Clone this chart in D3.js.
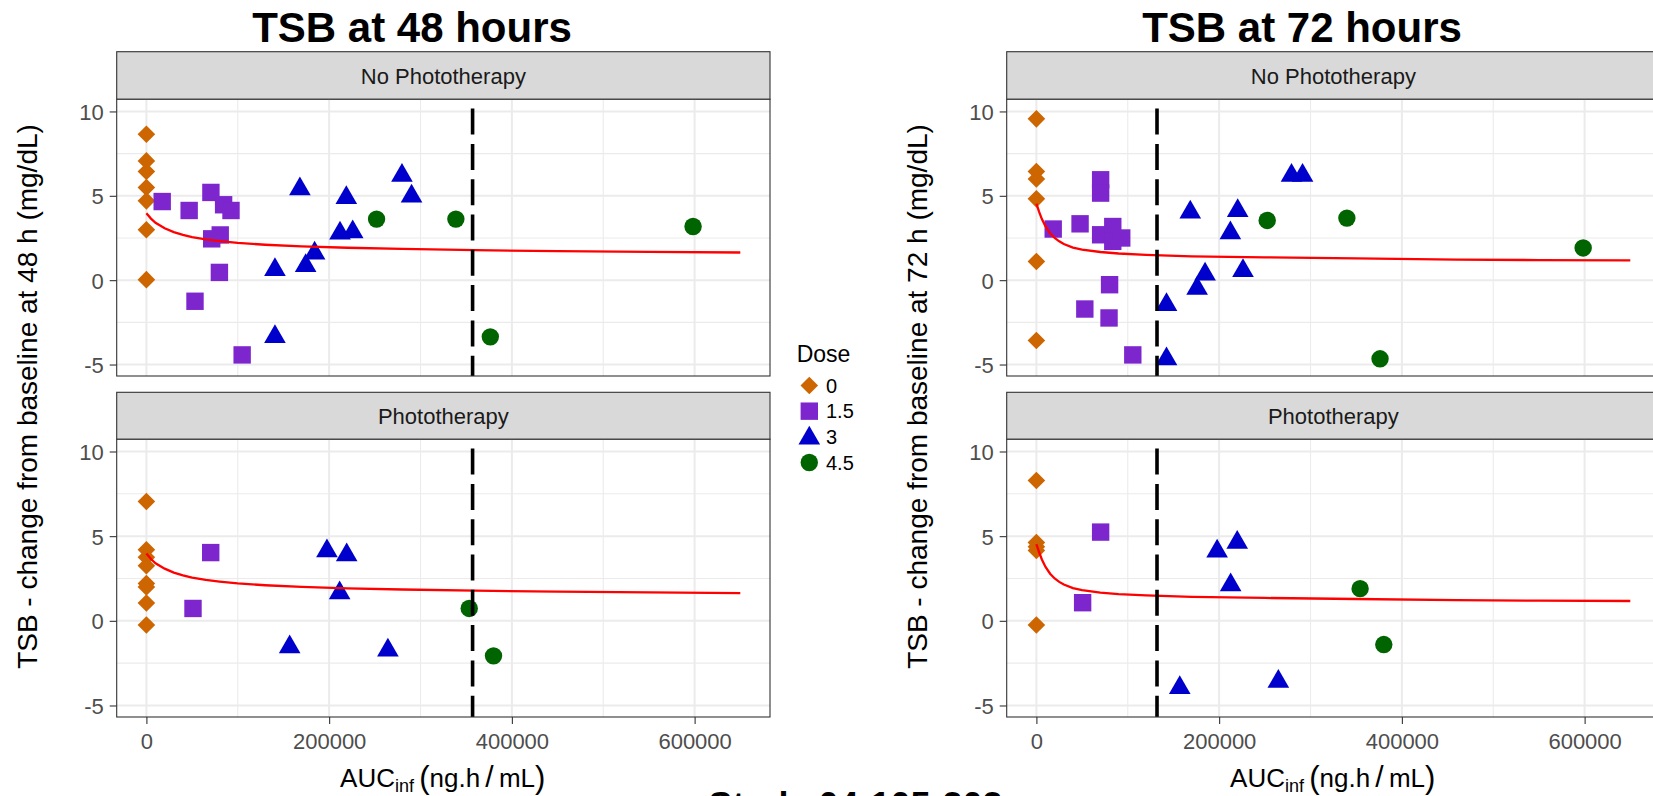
<!DOCTYPE html>
<html>
<head>
<meta charset="utf-8">
<script src="https://cdn.jsdelivr.net/npm/d3@7"></script>
<style>
  html, body { margin: 0; padding: 0; background: #fff; overflow: hidden; }
  svg { display: block; font-family: "Liberation Sans", Arial, sans-serif; }
</style>
</head>
<body>
<svg id="chart" width="1653" height="796"></svg>
<script>
// ---- data ----------------------------------------------------------
const doseLevels = ["0", "1.5", "3", "4.5"];
const doseColors = ["#CD6600", "#7D26CD", "#0000CD", "#006400"];
const doseShapes = ["diamond", "square", "triangle", "circle"];
const facetLabels = ["No Phototherapy", "Phototherapy"];
const plotTitles = ["TSB at 48 hours", "TSB at 72 hours"];
const yTitles = ["TSB - change from baseline at 48 h (mg/dL)", "TSB - change from baseline at 72 h (mg/dL)"];
const xTicks = [0, 200000, 400000, 600000];
const xMinor = [100000, 300000, 500000];
const yTicks = [-5, 0, 5, 10];
const yMinor = [-2.5, 2.5, 7.5];

// each row: [AUCinf (ng.h/mL), TSB change (mg/dL), dose index]
const h48NoPhoto = [
  [0, 8.65, 0], [0, 7.07, 0], [0, 6.44, 0], [0, 5.49, 0], [0, 4.70, 0], [0, 2.99, 0], [0, 0.03, 0],
  [17300, 4.66, 1], [46800, 4.13, 1], [70600, 5.20, 1], [84500, 4.47, 1], [92600, 4.13, 1],
  [71500, 2.45, 1], [80800, 2.68, 1], [79900, 0.46, 1], [53200, -1.25, 1], [104800, -4.43, 1],
  [168000, 5.40, 2], [218800, 4.89, 2], [279700, 6.20, 2], [290200, 4.97, 2], [211900, 2.78, 2],
  [225800, 2.86, 2], [140700, 0.62, 2], [184100, 1.59, 2], [174300, 0.85, 2], [140700, -3.35, 2],
  [251900, 3.62, 3], [338700, 3.62, 3], [598300, 3.18, 3], [376400, -3.36, 3]
];
const h48Photo = [
  [0, 7.05, 0], [0, 4.20, 0], [0, 3.75, 0], [0, 3.25, 0], [0, 2.20, 0], [0, 2.00, 0], [0, 1.05, 0], [0, -0.25, 0],
  [70400, 4.03, 1], [51000, 0.73, 1],
  [197600, 4.12, 2], [219200, 3.89, 2], [211500, 1.64, 2], [156800, -1.55, 2], [264300, -1.74, 2],
  [353300, 0.73, 3], [379900, -2.07, 3]
];
const h72NoPhoto = [
  [0, 9.56, 0], [0, 6.44, 0], [0, 6.00, 0], [0, 4.82, 0], [0, 1.11, 0], [0, -3.58, 0],
  [18400, 3.03, 1], [47800, 3.34, 1], [70300, 5.95, 1], [70300, 5.16, 1], [70300, 2.69, 1], [83600, 3.18, 1],
  [83600, 2.30, 1], [93400, 2.50, 1], [80100, -0.27, 1], [53000, -1.71, 1], [79500, -2.24, 1], [105500, -4.43, 1],
  [168400, 4.02, 2], [220300, 4.11, 2], [212300, 2.80, 2], [279200, 6.21, 2], [291300, 6.21, 2],
  [184600, 0.35, 2], [175900, -0.50, 2], [226100, 0.56, 2], [142400, -1.46, 2], [142400, -4.67, 2],
  [252600, 3.54, 3], [339800, 3.68, 3], [598400, 1.91, 3], [376100, -4.66, 3]
];
const h72Photo = [
  [0, 8.29, 0], [0, 4.62, 0], [0, 4.38, 0], [0, 4.15, 0], [0, -0.25, 0],
  [70300, 5.24, 1], [50600, 1.07, 1],
  [197800, 4.11, 2], [219800, 4.62, 2], [212600, 2.11, 2], [156900, -3.95, 2], [264800, -3.58, 2],
  [354300, 1.90, 3], [380200, -1.40, 3]
];

// model curves (same curve in both facets of a time point)
const h48FitAuc = [0, 5000, 10000, 20000, 30000, 40000, 50000, 65000, 80000, 100000, 130000, 170000, 220000, 280000, 360000, 450000, 550000, 650000];
const h48FitChange = [3.97, 3.65, 3.40, 3.08, 2.85, 2.68, 2.55, 2.42, 2.32, 2.21, 2.10, 2.00, 1.92, 1.85, 1.78, 1.72, 1.68, 1.64];
const h72FitAuc = [0, 3000, 6000, 10000, 15000, 20000, 25000, 30000, 40000, 50000, 70000, 90000, 120000, 170000, 250000, 350000, 460000, 550000, 650000];
const h72FitChange = [4.53, 4.05, 3.62, 3.18, 2.78, 2.50, 2.30, 2.14, 1.93, 1.81, 1.67, 1.58, 1.50, 1.41, 1.35, 1.29, 1.22, 1.19, 1.17];

// reference AUC marked with dashed line
const cutoffAuc = [357000, 132000];

// ---- layout --------------------------------------------------------
const svg = d3.select("#chart");
const font = '"Liberation Sans", Arial, sans-serif';

const subplots = [
  { left: 116.7, panels: [h48NoPhoto, h48Photo], fitX: h48FitAuc, fitY: h48FitChange, cutoff: cutoffAuc[0], title: plotTitles[0], ytitle: yTitles[0] },
  { left: 1006.7, panels: [h72NoPhoto, h72Photo], fitX: h72FitAuc, fitY: h72FitChange, cutoff: cutoffAuc[1], title: plotTitles[1], ytitle: yTitles[1] }
];
const panelWidth = 653.3;
const strips = [[51.7, 99.3], [392.3, 439.3]];
const panelsY = [[99.3, 376.0], [439.3, 717.0]];
const xDomain = [-32500, 682500];
const yDomain = [-5.68, 10.72];

function shapePath(shape) {
  switch (shape) {
    case "diamond": { const h = 8.8; return `M0,${-h}L${h},0L0,${h}L${-h},0Z`; }
    case "square": { const h = 8.7; return `M${-h},${-h}H${h}V${h}H${-h}Z`; }
    case "triangle": { const r = 12.5, w = r * Math.sqrt(3) / 2; return `M0,${-r}L${w},${r / 2}L${-w},${r / 2}Z`; }
    default: { const r = 8.7; return `M${r},0A${r},${r} 0 1,1 ${-r},0A${r},${r} 0 1,1 ${r},0Z`; }
  }
}

subplots.forEach((sp, si) => {
  const x = d3.scaleLinear().domain(xDomain).range([sp.left, sp.left + panelWidth]);
  const g = svg.append("g");

  // title
  g.append("text")
    .attr("x", sp.left + 295.3).attr("y", 41.7)
    .attr("text-anchor", "middle")
    .style("font-family", font).style("font-weight", "bold").style("font-size", "42px")
    .attr("fill", "#000").text(sp.title);

  // y axis title
  g.append("text")
    .attr("transform", `translate(${sp.left - 80.2},396.5) rotate(-90)`)
    .attr("text-anchor", "middle")
    .style("font-family", font).style("font-size", "28px")
    .attr("fill", "#000").text(sp.ytitle);

  const line = d3.line().x(d => x(d[0])).y(d => d[1]);

  sp.panels.forEach((rows, pi) => {
    const [top, bottom] = panelsY[pi];
    const y = d3.scaleLinear().domain(yDomain).range([bottom, top]);
    const pg = g.append("g");

    // strip
    pg.append("rect")
      .attr("x", sp.left).attr("y", strips[pi][0])
      .attr("width", panelWidth).attr("height", strips[pi][1] - strips[pi][0])
      .attr("fill", "#D9D9D9").attr("stroke", "#333333").attr("stroke-width", 1.1);
    pg.append("text")
      .attr("x", sp.left + panelWidth / 2).attr("y", (strips[pi][0] + strips[pi][1]) / 2 + 8.5)
      .attr("text-anchor", "middle")
      .style("font-family", font).style("font-size", "22px")
      .attr("fill", "#1A1A1A").text(facetLabels[pi]);

    // panel background + grid
    pg.append("rect")
      .attr("x", sp.left).attr("y", top).attr("width", panelWidth).attr("height", bottom - top)
      .attr("fill", "#fff");
    const grid = pg.append("g").attr("stroke", "#EBEBEB");
    grid.selectAll("line.xmin").data(xMinor).join("line")
      .attr("x1", d => x(d)).attr("x2", d => x(d)).attr("y1", top).attr("y2", bottom).attr("stroke-width", 1.1);
    grid.selectAll("line.ymin").data(yMinor).join("line")
      .attr("y1", d => y(d)).attr("y2", d => y(d)).attr("x1", sp.left).attr("x2", sp.left + panelWidth).attr("stroke-width", 1.1);
    grid.selectAll("line.xmaj").data(xTicks).join("line")
      .attr("x1", d => x(d)).attr("x2", d => x(d)).attr("y1", top).attr("y2", bottom).attr("stroke-width", 2);
    grid.selectAll("line.ymaj").data(yTicks).join("line")
      .attr("y1", d => y(d)).attr("y2", d => y(d)).attr("x1", sp.left).attr("x2", sp.left + panelWidth).attr("stroke-width", 2);

    // points
    pg.append("g").selectAll("path").data(rows).join("path")
      .attr("transform", d => `translate(${x(d[0])},${y(d[1])})`)
      .attr("d", d => shapePath(doseShapes[d[2]]))
      .attr("fill", d => doseColors[d[2]]);

    // model curve
    const fit = sp.fitX.map((v, i) => [v, y(sp.fitY[i])]);
    pg.append("path").attr("d", line(fit))
      .attr("fill", "none").attr("stroke", "#FF0000").attr("stroke-width", 2.3);

    // dashed reference line
    pg.append("line")
      .attr("x1", x(sp.cutoff)).attr("x2", x(sp.cutoff)).attr("y1", top).attr("y2", bottom)
      .attr("stroke", "#000").attr("stroke-width", 3.6)
      .attr("stroke-dasharray", "26,9.3").attr("stroke-dashoffset", 26);

    // border
    pg.append("rect")
      .attr("x", sp.left).attr("y", top).attr("width", panelWidth).attr("height", bottom - top)
      .attr("fill", "none").attr("stroke", "#333333").attr("stroke-width", 1.1);

    // y axis
    const ya = pg.append("g").attr("transform", `translate(${sp.left},0)`)
      .call(d3.axisLeft(y).tickValues(yTicks).tickSize(7).tickPadding(6).tickFormat(d => String(d)));
    ya.select(".domain").remove();
    ya.selectAll("line").attr("stroke", "#333333").attr("stroke-width", 1.1);
    ya.selectAll("text").attr("fill", "#4D4D4D").style("font-family", font).style("font-size", "22px").attr("dy", "0.36em");

    // x axis (bottom facet only)
    if (pi === 1) {
      const xa = pg.append("g").attr("transform", `translate(0,${bottom})`)
        .call(d3.axisBottom(x).tickValues(xTicks).tickSize(7).tickPadding(9).tickFormat(d => String(d)));
      xa.select(".domain").remove();
      xa.selectAll("line").attr("stroke", "#333333").attr("stroke-width", 1.1);
      xa.selectAll("text").attr("fill", "#4D4D4D").style("font-family", font).style("font-size", "22px");
    }
  });

  // x axis title: AUC_inf (ng.h/mL)
  const xt = g.append("text")
    .attr("x", sp.left + 326).attr("y", 787)
    .attr("text-anchor", "middle")
    .style("font-family", font).style("font-size", "26px").attr("fill", "#000");
  xt.append("tspan").text("AUC");
  xt.append("tspan").attr("dy", 5).style("font-size", "18px").text("inf");
  xt.append("tspan").attr("dy", -5).text("\u2009");
  xt.append("tspan").attr("dy", 1).style("font-size", "31px").text("(");
  xt.append("tspan").attr("dy", -1).text("ng.h\u2009");
  xt.append("tspan").style("font-size", "30px").text("/");
  xt.append("tspan").text("\u2009mL");
  xt.append("tspan").attr("dy", 1).style("font-size", "31px").text(")");
});

// legend
const leg = svg.append("g");
leg.append("text")
  .attr("x", 796.7).attr("y", 361.7)
  .style("font-family", font).style("font-size", "23px").attr("fill", "#000").text("Dose");
const keyY = d3.scalePoint().domain(doseLevels).range([385.5, 462.5]);
doseLevels.forEach((lv, i) => {
  const cy = keyY(lv) + (doseShapes[i] === "triangle" ? 1.5 : 0);
  leg.append("path")
    .attr("transform", `translate(809.3,${cy})`)
    .attr("d", shapePath(doseShapes[i]))
    .attr("fill", doseColors[i]);
  leg.append("text")
    .attr("x", 826).attr("y", keyY(lv)).attr("dy", "0.36em")
    .style("font-family", font).style("font-size", "20px").attr("fill", "#000").text(lv);
});

// caption
svg.append("text")
  .attr("x", 855.5).attr("y", 818)
  .attr("text-anchor", "middle")
  .style("font-family", font).style("font-weight", "bold").style("font-size", "36px")
  .attr("fill", "#000").text("Study 04-105-303");
</script>
</body>
</html>
